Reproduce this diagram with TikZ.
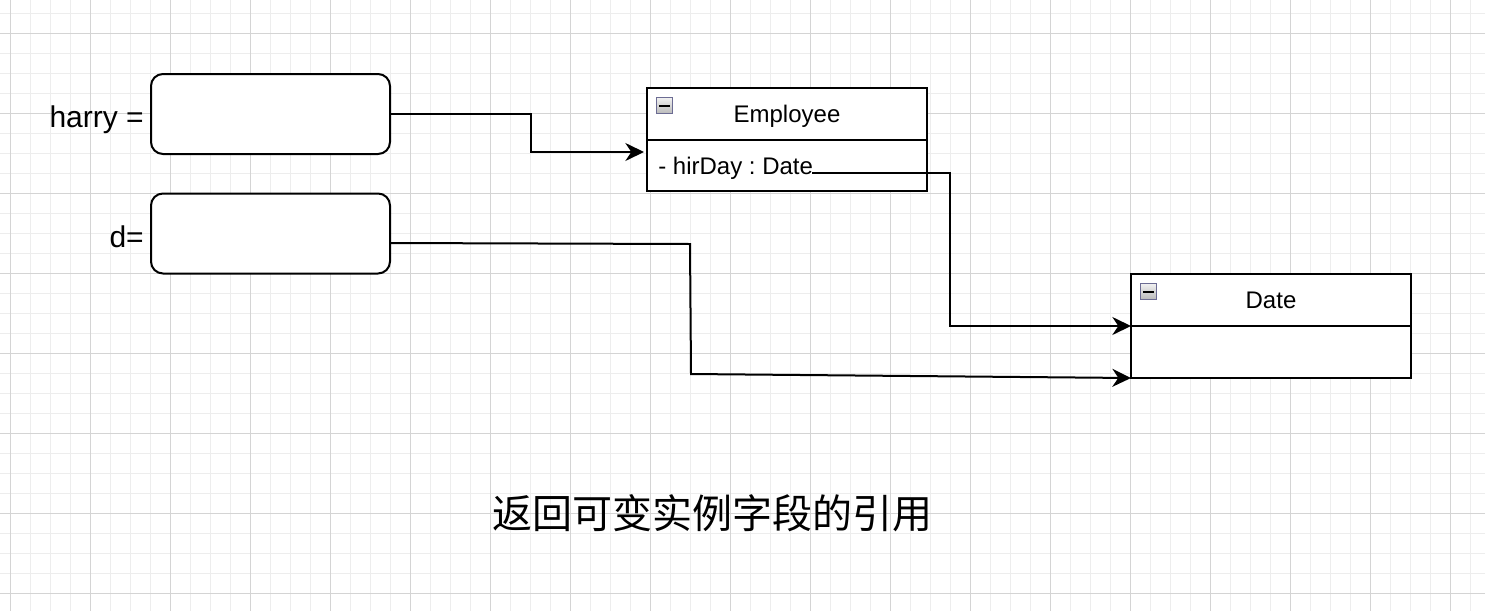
\documentclass[tikz,border=0pt]{standalone}
\usepackage{fontspec}
\setmainfont{Liberation Sans}
\newfontfamily\cjk{Noto Sans CJK SC}
\usetikzlibrary{arrows.meta}
\frenchspacing
\definecolor{majorgrid}{HTML}{D4D4D4}
\definecolor{minorgrid}{HTML}{EDEDED}
\tikzset{
  minorline/.style={draw=minorgrid, line width=0.75pt},
  majorline/.style={draw=majorgrid, line width=0.75pt},
  refbox/.style={draw=black, line width=1.5pt, rounded corners=9pt, fill=white,
    minimum width=179.25pt, minimum height=60pt, inner sep=0pt},
  classbox/.style={draw=black, line width=1.5pt, fill=white,
    minimum width=210pt, minimum height=77.7pt, inner sep=0pt},
  divider/.style={draw=black, line width=1.5pt},
  lbl/.style={font=\fontsize{22.5}{26}\selectfont, inner sep=0pt},
  ctext/.style={font=\fontsize{18}{21}\selectfont, inner sep=0pt},
  icon/.style={draw=gray!85!blue, line width=0.75pt, top color=gray!10, bottom color=gray!55,
    minimum width=12.5pt, minimum height=12.5pt, inner sep=0pt},
  arr/.style={draw=black, line width=1.5pt, -{Stealth[length=14pt, width=13.5pt, inset=4.5pt]}},
  title/.style={font=\cjk\fontsize{30}{36}\selectfont, inner sep=0pt}
}
\begin{document}
\begin{tikzpicture}[x=0.75pt,y=-0.75pt]
\useasboundingbox (0,0) rectangle (1485,611);
\fill[white] (0,0) rectangle (1485,611);
% grid
\foreach \x in {10,30,...,1485} \draw[minorline] (\x,0) -- (\x,611);
\foreach \y in {13,33,...,611} \draw[minorline] (0,\y) -- (1485,\y);
\foreach \x in {10,90,...,1485} \draw[majorline] (\x,0) -- (\x,611);
\foreach \y in {33,113,...,611} \draw[majorline] (0,\y) -- (1485,\y);

% reference boxes
\node[refbox] (harry) at (270.5,114) {};
\node[refbox] (d) at (270.5,233.5) {};
\node[lbl, anchor=east] (harrylbl) at (144,120) {harry =};
\node[lbl, anchor=east] (dlbl) at (144,237) {d=};

% Employee class
\node[classbox] (emp) at (787,139.5) {};
\draw[divider] (647,140) coordinate (empdl) -- (927,140) coordinate (empdr);
\node[ctext, anchor=base] (emptitle) at (787,122) {Employee};
\node[icon] (empicon) at (664.5,105.5) {};
\draw[line width=1.5pt] ([xshift=-3.8pt]empicon.center) -- ([xshift=3.8pt]empicon.center);
\node[ctext, anchor=base west] (hirday) at (658,174) {- hirDay : Date};

% Date class
\node[classbox] (date) at (1271,326) {};
\draw[divider] (1131,326) coordinate (datedl) -- (1411,326) coordinate (datedr);
\node[ctext, anchor=base] (datetitle) at (1271,308) {Date};
\node[icon] (dateicon) at (1148.5,291.5) {};
\draw[line width=1.5pt] ([xshift=-3.8pt]dateicon.center) -- ([xshift=3.8pt]dateicon.center);

% connectors
\coordinate (e1) at (644,152);
\coordinate (b1) at (531,133);
\draw[arr] (harry.east) -| (b1) |- (e1);

\coordinate (s2) at (812,173);
\coordinate (b2) at (950,250);
\coordinate (e2) at (1131,326);
\draw[arr] (s2) -| (b2) |- (e2);

\coordinate (s3) at (389,243);
\coordinate (b3a) at (690,244);
\coordinate (b3b) at (691,374);
\coordinate (e3) at (1131,378);
\draw[arr] (s3) -- (b3a) -- (b3b) -- (e3);

% caption
\node[title] (caption) at (712,513) {返回可变实例字段的引用};
\end{tikzpicture}
\end{document}
